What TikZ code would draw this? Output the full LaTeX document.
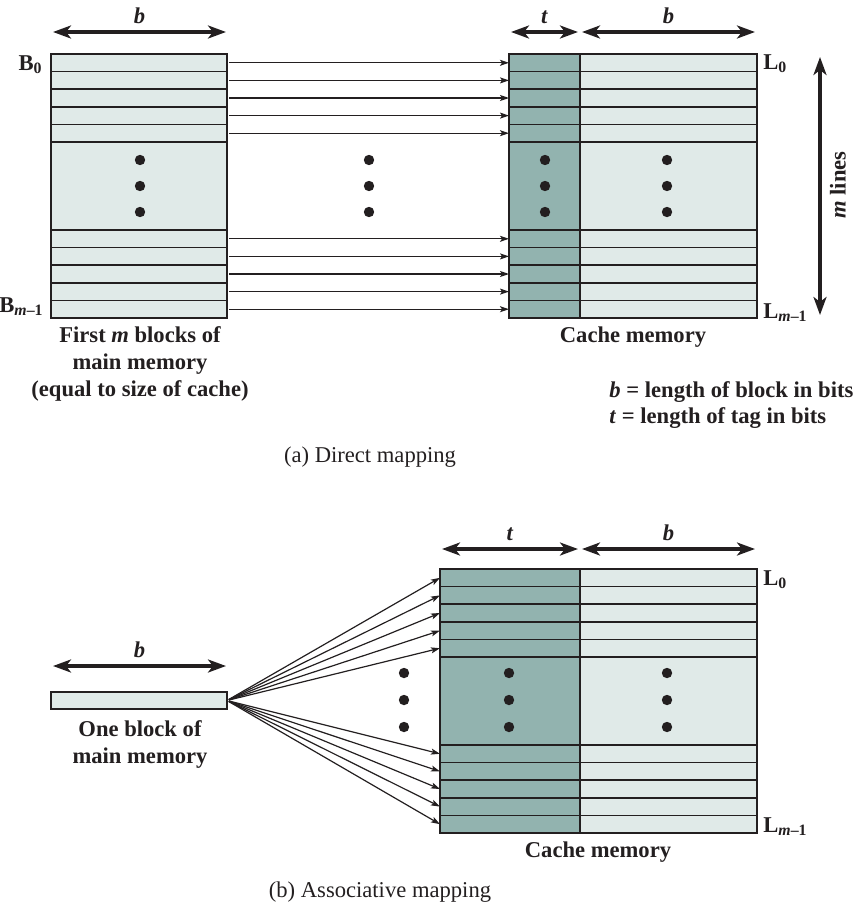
\documentclass[tikz,border=0pt]{standalone}
\usepackage{fontspec}
\setmainfont{Liberation Serif}
\usetikzlibrary{arrows.meta}
\definecolor{claro}{HTML}{E0EAE8}
\definecolor{oscuro}{HTML}{92B3AF}
\definecolor{tinta}{HTML}{231F20}

\begin{document}
\begin{tikzpicture}[x=0.5pt, y=-0.5pt, tinta, font=\fontsize{11.3}{13.5}\selectfont\bfseries,
			fila/.style={draw=tinta, line width=0.75pt, fill=claro, inner sep=0pt, outer sep=0pt,
			             minimum height=8.8pt, anchor=north west},
			marca/.style={fila, fill=oscuro},
			rotulo/.style={inner sep=0pt},
			flecha/.style={-{Stealth[length=4.5pt, width=3pt, inset=1pt]}, line width=0.6pt, shorten <=1pt},
			cota/.style={{Stealth[length=9pt, width=6.5pt, inset=2.5pt]}-{Stealth[length=9pt, width=6.5pt, inset=2.5pt]},
			             line width=2pt}]
			\useasboundingbox (0,0) rectangle (867,916);
			% (a) directa
			\node[fila, minimum width=88pt, minimum height=44pt] (amed) at (51,142) {};
			\node[marca, minimum width=35.5pt, minimum height=44pt] (tamed) at (509,142) {};
			\node[fila, minimum width=88.5pt, minimum height=44pt] (damed) at (580,142) {};
			\foreach \i/\y in {1/54, 2/71.6, 3/89.2, 4/106.8, 5/124.4, 6/230, 7/247.6, 8/265.2, 9/282.8, 10/300.4} {
				\node[fila, minimum width=88pt] (a\i) at (51,\y) {};
				\node[marca, minimum width=35.5pt] (ta\i) at (509,\y) {};
				\node[fila, minimum width=88.5pt] (da\i) at (580,\y) {};
				\draw[flecha] (a\i.east) -- (ta\i.west);
			}
			\foreach \x in {140, 369, 545, 667}
				\foreach \y in {160, 186, 212}
					\fill (\x,\y) circle (2.6pt);
			\draw[cota] (53,32) -- node[above] {\textit{b}} (226,32);
			\draw[cota] (511,32) -- node[above] {\textit{t}} (578,32);
			\draw[cota] (582,32) -- node[above] {\textit{b}} (755,32);
			\draw[cota] (820,57) -- (820,315);
			\node[rotate=90] (mlin) at (838,185) {\textit{m} lines};
			\node[rotulo, anchor=base east] (b0) at (43,70) {B\textsubscript{0}};
			\node[rotulo, anchor=base east] (bm) at (44,312) {B\textsubscript{\textit{m}–1}};
			\node[rotulo, anchor=base west] (l0) at (763,69) {L\textsubscript{0}};
			\node[rotulo, anchor=base west] (lm) at (763,318) {L\textsubscript{\textit{m}–1}};
			\node[align=center] (primeros) at (140,364)
				{First \textit{m} blocks of\\ main memory\\ (equal to size of cache)};
			\node[anchor=base] (cachea) at (633,342) {Cache memory};
			\node[rotulo, anchor=base west] (leyb) at (609,397) {\textit{b} = length of block in bits};
			\node[rotulo, anchor=base west] (leyt) at (609,423) {\textit{t} = length of tag in bits};
			\node[anchor=base, font=\fontsize{11.3}{13.5}\selectfont] (tita) at (370,462) {(a) Direct mapping};

			% (b) asociativa
			\node[fila, minimum width=88pt, minimum height=8.5pt] (bloque) at (51,692) {};
			\node[marca, minimum width=70pt, minimum height=44pt] (tbmed) at (440,657) {};
			\node[fila, minimum width=88.5pt, minimum height=44pt] (dbmed) at (580,657) {};
			\foreach \i/\y in {1/569, 2/586.6, 3/604.2, 4/621.8, 5/639.4, 6/745, 7/762.6, 8/780.2, 9/797.8, 10/815.4} {
				\node[marca, minimum width=70pt] (tb\i) at (440,\y) {};
				\node[fila, minimum width=88.5pt] (db\i) at (580,\y) {};
				\draw[flecha] (bloque.east) -- (tb\i.west);
			}
			\foreach \x in {404, 509, 667}
				\foreach \y in {673, 700, 727}
					\fill (\x,\y) circle (2.6pt);
			\draw[cota] (53,666) -- node[above] {\textit{b}} (226,666);
			\draw[cota] (442,549) -- node[above] {\textit{t}} (578,549);
			\draw[cota] (582,549) -- node[above] {\textit{b}} (755,549);
			\node[rotulo, anchor=base west] (l0b) at (763,585) {L\textsubscript{0}};
			\node[rotulo, anchor=base west] (lmb) at (763,832) {L\textsubscript{\textit{m}–1}};
			\node[align=center] (unbloque) at (140,744) {One block of\\ main memory};
			\node[anchor=base] (cacheb) at (598,857) {Cache memory};
			\node[anchor=base, font=\fontsize{11.3}{13.5}\selectfont] (titb) at (380,897) {(b) Associative mapping};
		\end{tikzpicture}
\end{document}
